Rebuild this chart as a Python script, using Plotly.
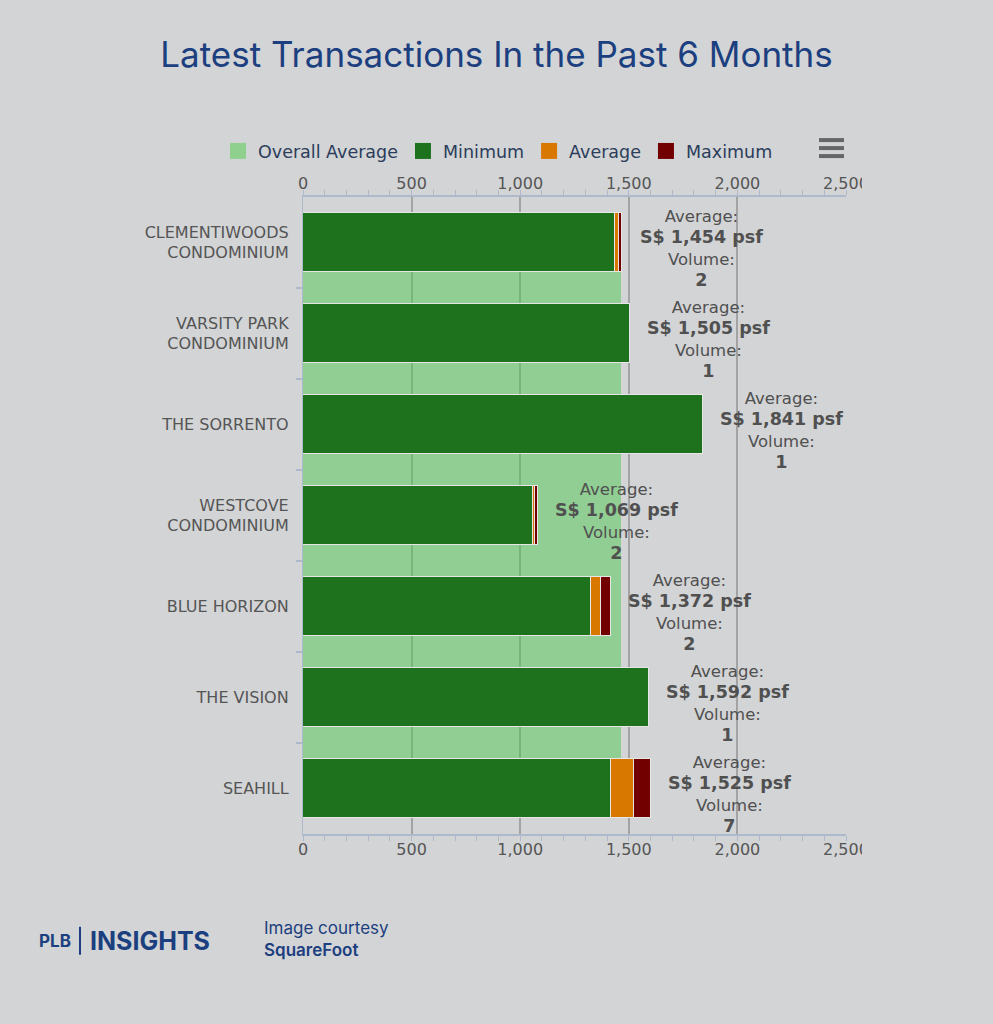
import plotly.graph_objects as go

# ---- data ----
categories = ["CLEMENTIWOODS<br>CONDOMINIUM", "VARSITY PARK<br>CONDOMINIUM", "THE SORRENTO",
              "WESTCOVE<br>CONDOMINIUM", "BLUE HORIZON", "THE VISION", "SEAHILL"]
minimum = [1438, 1505, 1841, 1058, 1326, 1592, 1418]
average = [1454, 1505, 1841, 1069, 1372, 1592, 1525]
maximum = [1470, 1505, 1841, 1080, 1418, 1592, 1602]
volume = [2, 1, 1, 2, 2, 1, 7]
overall_average = 1465
x_ticks = [0, 500, 1000, 1500, 2000, 2500]

# ---- colours ----
BG = "#d3d4d6"
C_OVERALL = "rgba(80,200,80,0.5)"
C_OVERALL_LEG = "#8fd08f"
C_MIN = "#1e721e"
C_AVG = "#d97800"
C_MAX = "#720000"
NAVY = "#1c3f7f"
TXT = "#555555"
AXC = "#aeb9cb"

pos = list(range(len(categories)))
seg_min = minimum
seg_avg = [a - m if a - m > 0 else None for a, m in zip(average, minimum)]
seg_max = [x - a if x - a > 0 else None for x, a in zip(maximum, average)]

fig = go.Figure()
line = dict(color="#e6e6e6", width=1)

# overall average band between categories
fig.add_trace(go.Bar(y=[p + 0.5 for p in pos[:-1]], x=[overall_average] * (len(pos) - 1),
                     orientation="h", width=1.0, marker=dict(color=C_OVERALL, line=dict(width=0)),
                     name="Overall Average", showlegend=False, hoverinfo="skip"))
fig.add_trace(go.Bar(y=pos, x=seg_min, orientation="h", width=0.65,
                     marker=dict(color=C_MIN, line=line), name="Minimum", showlegend=False))
fig.add_trace(go.Bar(y=pos, x=seg_avg, orientation="h", width=0.65,
                     marker=dict(color=C_AVG, line=line), name="Average", showlegend=False))
fig.add_trace(go.Bar(y=pos, x=seg_max, orientation="h", width=0.65,
                     marker=dict(color=C_MAX, line=line), name="Maximum", showlegend=False))

# legend entries (on the top axis so it is drawn)
for nm, col in [("Overall Average", C_OVERALL_LEG), ("Minimum", C_MIN), ("Average", C_AVG), ("Maximum", C_MAX)]:
    fig.add_trace(go.Scatter(x=[None], y=[None], mode="markers", name=nm, xaxis="x2",
                             marker=dict(symbol="square", size=16, color=col)))

# data labels
for p, a, mx, v in zip(pos, average, maximum, volume):
    fig.add_annotation(x=mx, y=p, xref="x", yref="y", xanchor="center", yanchor="middle",
                       xshift=79, yshift=-6, showarrow=False, align="center",
                       text=(f"Average:<br><span style='font-size:17.5px'><b>S$ {a:,} psf</b></span>"
                             f"<br>Volume:<br><span style='font-size:17.5px'><b>{v}</b></span>"),
                       font=dict(family="DejaVu Sans", size=16.5, color="#505050"))

axis_common = dict(range=[0, 2500], tickvals=x_ticks, ticktext=[f"{t:,}" for t in x_ticks],
                   showline=True, linecolor=AXC, linewidth=1.5, ticks="",
                   tickfont=dict(family="DejaVu Sans", size=16, color=TXT),
                   minor=dict(tickmode="array", tickvals=list(range(0, 2501, 100)), ticks="outside",
                              ticklen=5, tickcolor=AXC, tickwidth=1.2, showgrid=False),
                   zeroline=False, fixedrange=True)

fig.update_layout(
    width=993, height=1024,
    paper_bgcolor=BG, plot_bgcolor=BG,
    margin=dict(l=303, r=147, t=197, b=190),
    barmode="stack", bargap=0,
    title=dict(text="Latest Transactions In the Past 6 Months", x=0.5, xanchor="center",
               y=1 - 55 / 1024, yanchor="middle",
               font=dict(family="Inter", size=35, color=NAVY)),
    xaxis=dict(**axis_common, side="bottom", showgrid=True, gridcolor="#a3a3a3", gridwidth=1.5),
    xaxis2=dict(**axis_common, side="top", overlaying="x", matches="x", showgrid=False),
    yaxis=dict(range=[6.5, -0.5], tickvals=pos, ticktext=categories, ticks="",
               showline=True, linecolor=AXC, linewidth=1.2, showgrid=False, zeroline=False,
               ticklabelstandoff=10,
               tickfont=dict(family="DejaVu Sans", size=16, color=TXT),
               minor=dict(tickmode="array", tickvals=[p + 0.5 for p in pos[:-1]], ticks="outside",
                          ticklen=6, tickcolor=AXC, tickwidth=1.5, showgrid=False)),
    legend=dict(orientation="h", x=(218 - 303) / 543, xanchor="left", traceorder="normal",
                y=(834 - 150) / 638, yanchor="middle", bgcolor="rgba(0,0,0,0)",
                font=dict(family="DejaVu Sans", size=17.5, color="#2b3d5b"),
                itemclick=False, itemdoubleclick=False),
    showlegend=True,
)

# export (hamburger) icon
for yy in [139, 147, 155]:
    fig.add_shape(type="line", xref="paper", yref="paper",
                  x0=(819 - 303) / 543, x1=(844 - 303) / 543,
                  y0=(834 - yy) / 638, y1=(834 - yy) / 638,
                  line=dict(color="#666666", width=4))

def px_x(x):
    return (x - 303) / 543

def px_y(y):
    return (834 - y) / 638

# the chart area clips the last tick label on the right
for ya, yb in [(170, 196), (838, 866)]:
    fig.add_shape(type="rect", xref="paper", yref="paper", x0=px_x(862), x1=px_x(905),
                  y0=px_y(yb), y1=px_y(ya), fillcolor=BG, line=dict(width=0), layer="above")

# footer
fig.add_annotation(xref="paper", yref="paper", x=px_x(37), y=px_y(941), xanchor="left", yanchor="middle",
                   showarrow=False, text="<b>PLB</b>", font=dict(family="Inter", size=17, color=NAVY))
fig.add_shape(type="line", xref="paper", yref="paper", x0=px_x(80), x1=px_x(80),
              y0=px_y(927), y1=px_y(955), line=dict(color=NAVY, width=2))
fig.add_annotation(xref="paper", yref="paper", x=px_x(88), y=px_y(941), xanchor="left", yanchor="middle",
                   showarrow=False, text="<b>INSIGHTS</b>", font=dict(family="Inter", size=25, color=NAVY))
fig.add_annotation(xref="paper", yref="paper", x=px_x(262), y=px_y(928), xanchor="left", yanchor="middle",
                   showarrow=False, text="Image courtesy", font=dict(family="Inter", size=17, color=NAVY))
fig.add_annotation(xref="paper", yref="paper", x=px_x(262), y=px_y(950), xanchor="left", yanchor="middle",
                   showarrow=False, text="SquareFoot",
                   font=dict(family="Inter", size=17, color=NAVY, weight=600))

fig.write_html("out.html", config={"displayModeBar": False},
               post_script="document.body.style.margin='0';document.body.style.background='%s';" % BG)
